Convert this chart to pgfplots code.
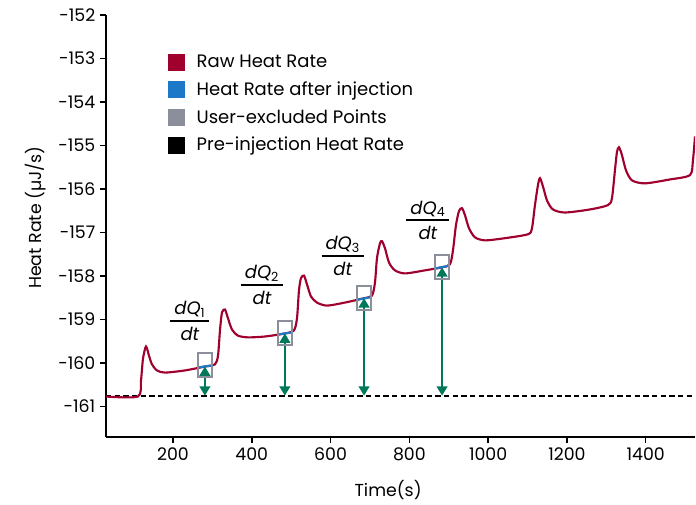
\documentclass[border=0pt]{standalone}
\usepackage{fontspec}
\setmainfont{Poppins}
\usepackage{pgfplots}
\pgfplotsset{compat=1.18}
\usetikzlibrary{arrows.meta}

\definecolor{rawred}{RGB}{160,0,45}
\definecolor{injblue}{RGB}{30,120,200}
\definecolor{exclgray}{RGB}{138,143,155}
\definecolor{arrgreen}{RGB}{0,120,90}

\setlength{\arrayrulewidth}{1.3pt}
\newcommand{\dqdt}[1]{\fontsize{13.5}{16}\selectfont\itshape\begin{tabular}{@{\hspace{3pt}}c@{\hspace{3pt}}}dQ{\upshape\textsubscript{#1}}\\[-1pt]\hline\rule{0pt}{14pt}dt\end{tabular}}

\begin{document}
\begin{tikzpicture}
\begin{axis}[
  scale only axis,
  width=441.75pt, height=316.5pt,
  xmin=30, xmax=1525, ymin=-161.7, ymax=-152,
  axis x line=bottom, axis y line=left,
  axis line style={line width=1.1pt, -},
  xtick={200,400,...,1400}, ytick={-161,-160,...,-152},
  yticklabels={-161,-160,-159,-158,-157,-156,-155,-154,-153,-152},
  tick align=outside, major tick length=4.5pt,
  tick style={line width=1.1pt, black},
  font=\fontsize{13}{15}\selectfont,
  /pgf/number format/assume math mode=true,
  /pgf/number format/1000 sep={},
  xlabel={Time(s)},
  ylabel={Heat Rate (µJ/s)},
  every axis x label/.style={at={(rel axis cs:0.479,0)}, anchor=center, yshift=-40pt},
  every axis y label/.style={at={(rel axis cs:0,0.52)}, xshift=-53pt, rotate=90, anchor=center},
  legend style={at={(rel axis cs:0.105,0.912)}, anchor=north west, draw=none, fill=none,
    inner sep=0pt, row sep=5pt, font=\fontsize{13.5}{16}\selectfont,
    nodes={inner xsep=9pt}},
  legend cell align=left,
]

% legend entries
\addlegendimage{legend image code/.code={\fill[rawred] (0pt,-6pt) rectangle (12pt,6pt);}}
\addlegendentry{Raw Heat Rate}
\addlegendimage{legend image code/.code={\fill[injblue] (0pt,-6pt) rectangle (12pt,6pt);}}
\addlegendentry{Heat Rate after injection}
\addlegendimage{legend image code/.code={\fill[exclgray] (0pt,-6pt) rectangle (12pt,6pt);}}
\addlegendentry{User-excluded Points}
\addlegendimage{legend image code/.code={\fill[black] (0pt,-6pt) rectangle (12pt,6pt);}}
\addlegendentry{Pre-injection Heat Rate}

% pre-injection baseline
\addplot[forget plot, black, line width=1.3pt, dash pattern=on 4pt off 2.5pt]
  coordinates {(30,-160.75) (1525,-160.75)};

% raw heat rate
\addplot[forget plot, rawred, line width=1.6pt, smooth, tension=0.45] coordinates {
(30,-160.77) (111,-160.77) (118.8,-160.40) (123.9,-159.90) (131.5,-159.62)
(139.1,-159.83) (146.7,-160.03) (159.4,-160.17) (179.7,-160.22) (230.5,-160.17)
(281.3,-160.08) (306.6,-160.03) (314.3,-159.83) (319.3,-159.25) (324.4,-158.84)
(332,-158.77) (339.6,-158.97) (349.8,-159.23) (365,-159.37) (390.4,-159.41)
(433.5,-159.39) (484.3,-159.32) (507.1,-159.25) (514.8,-158.97) (519.8,-158.33)
(524.9,-158.05) (532.5,-157.99) (540.1,-158.19) (550.3,-158.47) (565.5,-158.61)
(590.9,-158.68) (636.6,-158.61) (684.8,-158.51) (705.1,-158.45) (712.7,-158.15)
(717.8,-157.59) (725.4,-157.25) (730.5,-157.20) (738.1,-157.36) (748.3,-157.69)
(763.5,-157.87) (788.9,-157.94) (839.6,-157.87) (882.8,-157.80) (903.1,-157.73)
(910.7,-157.41) (918.3,-156.83) (925.9,-156.51) (933.5,-156.44) (941.1,-156.60)
(951.3,-156.90) (966.5,-157.11) (991.9,-157.18) (1042.7,-157.13) (1101,-157.04)
(1111.2,-156.90) (1118.8,-156.37) (1126.4,-155.91) (1131.5,-155.75) (1139.1,-155.94)
(1149.3,-156.26) (1164.5,-156.47) (1195,-156.54) (1258.4,-156.47) (1304.1,-156.37)
(1314.2,-156.21) (1321.8,-155.57) (1326.9,-155.15) (1332,-155.04) (1339.6,-155.22)
(1349.8,-155.57) (1365,-155.80) (1398,-155.87) (1461.5,-155.78) (1512.2,-155.68)
(1519.8,-155.34) (1525,-154.79)
};

% heat rate after injection
\addplot[forget plot, injblue, line width=1.6pt, unbounded coords=jump] coordinates {
(266,-160.10) (296,-160.06) (296,nan)
(469,-159.34) (499,-159.30) (499,nan)
(670,-158.54) (700,-158.49) (700,nan)
(868,-157.82) (898,-157.77)
};

% dQ/dt arrows
\addplot[forget plot, arrgreen, line width=1.5pt,
  {Triangle[width=8pt,length=7pt]}-{Triangle[width=8pt,length=7pt]}]
  coordinates {(281,-160.08) (281,-160.75)};
\addplot[forget plot, arrgreen, line width=1.5pt,
  {Triangle[width=8pt,length=7pt]}-{Triangle[width=8pt,length=7pt]}]
  coordinates {(484,-159.32) (484,-160.75)};
\addplot[forget plot, arrgreen, line width=1.5pt,
  {Triangle[width=8pt,length=7pt]}-{Triangle[width=8pt,length=7pt]}]
  coordinates {(685,-158.51) (685,-160.75)};
\addplot[forget plot, arrgreen, line width=1.5pt,
  {Triangle[width=8pt,length=7pt]}-{Triangle[width=8pt,length=7pt]}]
  coordinates {(883,-157.80) (883,-160.75)};

% user-excluded points
\addplot[forget plot, only marks, mark=square, mark size=5.25pt,
  mark options={draw=exclgray, line width=1.4pt, yscale=1.7, fill=none}]
  coordinates {(281,-160.05) (484,-159.31) (685,-158.50) (883,-157.79)};

% labels
\node at (axis cs:243,-159.09) {\dqdt{1}};
\node at (axis cs:426,-158.26) {\dqdt{2}};
\node at (axis cs:631,-157.59) {\dqdt{3}};
\node at (axis cs:847,-156.77) {\dqdt{4}};
\end{axis}
\path ([shift={(-79.5pt,-49.5pt)}]current axis.south west) rectangle ([shift={(0.75pt,11.25pt)}]current axis.north east);
\end{tikzpicture}
\end{document}
